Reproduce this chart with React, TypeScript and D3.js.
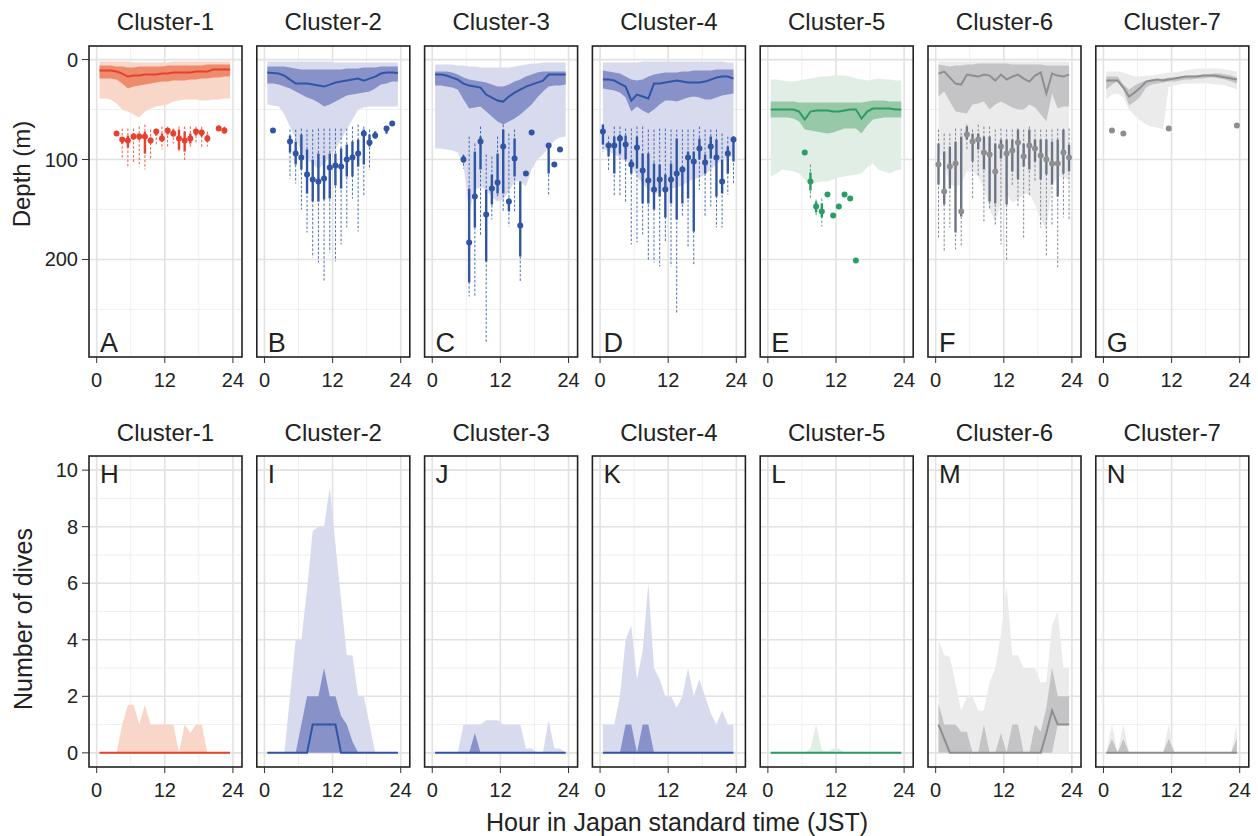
import React from "react";
import * as d3 from "d3";

// ---- data ----
const clusterNames = ["Cluster-1", "Cluster-2", "Cluster-3", "Cluster-4", "Cluster-5", "Cluster-6", "Cluster-7"];
const topLetters = ["A", "B", "C", "D", "E", "F", "G"];
const bottomLetters = ["H", "I", "J", "K", "L", "M", "N"];

const bandHour = [0.5, 1.5, 2.5, 3.5, 4.5, 5.5, 6.5, 7.5, 8.5, 9.5, 10.5, 11.5, 12.5, 13.5, 14.5, 15.5, 16.5, 17.5, 18.5, 19.5, 20.5, 21.5, 22.5, 23.5];

// depth bands (m), one row per cluster
const depthOuterTop = [
  [2, 2, 2, 2, 2, 2, 3, 3, 3, 3, 3, 3, 3, 2, 2, 2, 2, 2, 2, 2, 2, 2, 2, 2],
  [2, 2, 2, 2, 2, 2, 2, 2, 2, 2, 2, 2, 3, 3, 3, 3, 3, 3, 3, 3, 3, 3, 3, 3],
  [5, 5, 5, 5, 6, 6, 7, 7, 8, 8, 8, 8, 8, 8, 7, 6, 5, 4, 4, 3, 3, 3, 3, 3],
  [3, 3, 3, 3, 3, 3, 3, 2, 2, 2, 2, 2, 2, 2, 2, 2, 2, 2, 2, 2, 2, 2, 3, 3],
  [20, 20, 21, 22, 22, 21, 20, 19, 18, 17, 17, 16, 16, 16, 17, 19, 20, 21, 20, 19, 20, 20, 21, 21],
  [2, 2, 2, 2, 2, 2, 2, 2, 2, 2, 2, 2, 2, 2, 2, 2, 2, 2, 2, 2, 2, 2, 2, 2],
  [12, 12, 12, 13, 15, 17, 17, 16, 16, 15, 14, 13, 13, 12, 11, 10, 9, 9, 9, 9, 9, 10, 11, 12],
];
const depthInnerTop = [
  [6, 6, 6, 7, 7, 8, 8, 7, 7, 7, 7, 7, 6, 6, 6, 6, 6, 6, 6, 5, 5, 5, 5, 5],
  [7, 7, 7, 7, 8, 9, 10, 10, 10, 10, 10, 10, 10, 10, 9, 9, 9, 8, 8, 8, 7, 7, 7, 7],
  [12, 12, 12, 13, 15, 18, 20, 21, 22, 23, 25, 27, 27, 25, 22, 20, 17, 15, 13, 12, 12, 12, 12, 12],
  [11, 12, 13, 14, 17, 20, 21, 20, 17, 15, 14, 13, 13, 13, 12, 12, 11, 11, 11, 11, 10, 10, 10, 10],
  [42, 42, 42, 42, 42, 43, 43, 43, 43, 43, 43, 43, 43, 43, 43, 43, 43, 42, 41, 41, 41, 42, 42, 42],
  [5, 6, 7, 6, 6, 5, 5, 4, 4, 4, 4, 4, 4, 5, 5, 5, 5, 5, 5, 6, 6, 6, 6, 6],
  [17, 17, 17, 25, 30, 26, 23, 21, 20, 20, 19, 18, 18, 17, 17, 16, 16, 15, 15, 14, 14, 15, 16, 18],
];
const depthMedian = [
  [11, 11, 11, 12, 14, 17, 16, 16, 15, 15, 15, 14, 14, 13, 13, 13, 13, 12, 12, 12, 10, 10, 10, 10],
  [13, 13.5, 14, 16, 20, 24, 24, 24, 25, 26, 27, 25, 23, 22, 21, 20, 19, 21, 19, 17, 14, 13, 13, 13.5],
  [15, 15, 16, 18, 20, 24, 26, 27, 28, 35, 38, 41, 42, 37, 33, 30, 27, 25, 23, 21, 15, 15, 15, 15],
  [20, 20, 21, 24, 27, 41, 35, 37, 39, 24, 24, 23, 22, 21, 22, 23, 23, 23, 22, 20, 18, 17, 17, 19],
  [50, 50, 50, 50, 50, 52, 60, 52, 51, 51, 51, 52, 52, 51, 50, 50, 59, 52, 49, 49, 49, 49, 50, 50],
  [14, 12, 18, 24, 25, 15, 16, 17, 15, 16, 21, 15, 20, 17, 15, 19, 22, 16, 13, 34, 14, 16, 17, 15],
  [21, 21, 21, 28, 37, 33, 28, 22, 21, 20, 21, 20, 19, 18, 17, 17, 17, 16, 16, 16, 17, 18, 19, 20],
];
const depthInnerBottom = [
  [19, 19, 19, 20, 24, 29, 27, 26, 25, 24, 23, 22, 22, 21, 21, 21, 20, 20, 19, 19, 18, 18, 17, 17],
  [24, 24, 25, 27, 29, 32, 35, 38, 40, 43, 47, 45, 42, 39, 36, 35, 34, 33, 32, 29, 25, 24, 22, 22],
  [26, 26, 27, 28, 30, 40, 49, 48, 47, 52, 57, 62, 65, 62, 59, 55, 50, 45, 38, 32, 27, 26, 26, 25],
  [29, 30, 31, 33, 38, 52, 47, 51, 54, 50, 45, 41, 41, 42, 40, 38, 37, 38, 40, 40, 38, 36, 35, 34],
  [58, 58, 58, 58, 59, 62, 70, 71, 72, 73, 74, 73, 71, 69, 69, 69, 74, 66, 60, 59, 58, 58, 58, 58],
  [37, 32, 42, 52, 53, 54, 45, 44, 42, 50, 45, 42, 45, 48, 50, 50, 45, 48, 55, 62, 34, 49, 47, 47],
  [30, 25, 22, 30, 46, 42, 37, 28, 25, 24, 23, 22, 22, 21, 20, 20, 19, 19, 18, 18, 19, 20, 22, 24],
];
const depthOuterBottom = [
  [39, 39, 40, 44, 50, 52, 55, 58, 52, 49, 47, 46, 45, 42, 41, 40, 40, 40, 41, 41, 40, 40, 39, 39],
  [45, 46, 47, 55, 67, 80, 92, 100, 104, 110, 104, 97, 90, 80, 70, 60, 50, 48, 47, 47, 47, 47, 47, 47],
  [89, 89, 90, 91, 93, 105, 153, 130, 128, 130, 138, 142, 140, 132, 122, 122, 127, 110, 100, 95, 88, 81, 78, 77],
  [90, 92, 95, 98, 101, 105, 117, 124, 130, 135, 133, 131, 129, 128, 126, 122, 120, 118, 115, 110, 105, 100, 98, 97],
  [117, 114, 110, 111, 112, 114, 120, 124, 123, 122, 122, 120, 118, 117, 116, 115, 114, 108, 104, 110, 112, 114, 111, 110],
  [90, 105, 125, 127, 125, 112, 112, 117, 130, 150, 162, 143, 135, 143, 140, 135, 134, 145, 160, 170, 125, 117, 118, 120],
  [40, 35, 34, 38, 50, 56, 61, 65, 67, 68, 70, 27, 26, 25, 24, 24, 24, 24, 24, 25, 25, 26, 28, 30],
];

// deepest-dive points with inner (solid) and outer (dashed) ranges
const dotHour = [
  [3.5, 4.5, 5.5, 6.5, 7.5, 8.5, 9.5, 10.5, 11.5, 12.5, 13.5, 14.5, 15.5, 16.5, 17.5, 18.5, 19.5, 21.5, 22.5],
  [1.5, 4.5, 5.5, 6.5, 7.5, 8.5, 9.5, 10.5, 11.5, 12.5, 13.5, 14.5, 15.5, 16.5, 17.5, 18.5, 19.5, 21.5, 22.5],
  [5.5, 6.5, 7.5, 8.5, 9.5, 10.5, 11.5, 12.5, 13.5, 14.5, 15.5, 16.5, 17.5, 20.5, 21.5, 22.5],
  [0.5, 1.5, 2.5, 3.5, 4.5, 5.5, 6.5, 7.5, 8.5, 9.5, 10.5, 11.5, 12.5, 13.5, 14.5, 15.5, 16.5, 17.5, 18.5, 19.5, 20.5, 21.5, 22.5, 23.5],
  [6.5, 7.5, 8.5, 9.5, 10.5, 11.5, 12.5, 13.5, 14.5, 15.5],
  [0.5, 1.5, 2.5, 3.5, 4.5, 5.5, 6.5, 7.5, 8.5, 9.5, 10.5, 11.5, 12.5, 13.5, 14.5, 15.5, 16.5, 17.5, 18.5, 19.5, 20.5, 21.5, 22.5, 23.5],
  [1.5, 3.5, 11.5, 23.5],
];
const dotDepth = [
  [74, 80, 81, 77, 77, 77, 81, 72, 79, 71, 74, 79, 81, 79, 72, 73, 79, 69, 71],
  [71, 82, 94, 98, 115, 120, 122, 119, 108, 106, 107, 100, 98, 94, 74, 83, 76, 69, 64],
  [100, 183, 137, 82, 155, 129, 123, 87, 142, 99, 166, 114, 73, 86, 105, 90],
  [72, 86, 86, 79, 85, 105, 88, 111, 121, 130, 120, 130, 120, 114, 110, 98, 102, 89, 103, 87, 98, 122, 94, 80],
  [93, 122, 147, 152, 135, 156, 147, 135, 139, 201],
  [105, 132, 107, 104, 152, 75, 82, 80, 93, 95, 112, 87, 94, 91, 83, 97, 86, 89, 96, 100, 104, 104, 93, 98],
  [71, 74, 69, 66],
];
const dotQ1 = [
  [null, 78, 76, 74, 74, 72, 78, 70, 74, 69, 70, 70, 72, 74, 70, 70, 75, 66, 68],
  [null, 76, 82, 75, 90, 100, 94, 96, 94, 94, 89, 85, 82, 80, 70, 75, 72, 67, null],
  [96, 129, 92, 77, 130, 115, 94, 70, 139, 79, 122, null, null, 84, null, null],
  [65, 84, 77, 75, 76, 100, 77, 94, 94, 104, 105, 115, 104, 79, 107, 92, 92, 79, 95, 77, 80, 100, 87, 77],
  [null, 113, 142, 144, null, null, null, null, null, null],
  [84, 92, 87, 82, 77, 67, 74, 74, 77, 77, 84, 80, 80, 80, 70, 84, 70, 80, 80, 80, 82, 80, 70, 85],
  [null, null, null, null],
];
const dotQ3 = [
  [null, 84, 88, 80, 80, 94, 84, 76, 82, 75, 77, 90, 92, 84, 76, 77, 82, 71, 74],
  [null, 93, 105, 110, 134, 142, 142, 140, 139, 126, 129, 117, 117, 107, 105, 87, 79, 74, null],
  [103, 223, 168, 110, 202, 145, 134, 134, 152, 117, 197, null, null, 114, null, null],
  [85, 97, 114, 94, 100, 114, 109, 144, 144, 150, 137, 158, 144, 160, 144, 139, 172, 100, 114, 99, 137, 134, 114, 102],
  [null, 131, 153, 158, null, null, null, null, null, null],
  [125, 145, 129, 173, 157, 80, 102, 90, 110, 142, 144, 99, 145, 112, 120, 107, 110, 102, 120, 115, 125, 137, 114, 112],
  [null, null, null, null],
];
const dotLo = [
  [null, 69, 69, 69, 67, 65, 70, 69, 67, 67, 69, 67, 67, 67, 67, 67, 72, 66, 67],
  [null, 70, 70, 69, 70, 70, 69, 69, 69, 69, 69, 69, 67, 65, 67, 70, 72, 67, null],
  [95, 77, 84, 67, 95, 97, 77, 65, 74, 70, 122, null, null, 84, null, null],
  [65, 77, 67, 67, 69, 69, 67, 67, 70, 70, 69, 69, 70, 70, 70, 70, 70, 67, 70, 70, 70, 74, 77, 77],
  [null, 105, 140, 139, null, null, null, null, null, null],
  [70, 74, 74, 69, 69, 65, 70, 65, 67, 67, 70, 69, 70, 70, 69, 70, 67, 70, 70, 70, 70, 69, 69, 69],
  [null, null, null, null],
];
const dotHi = [
  [null, 100, 107, 104, 107, 110, 100, 85, 90, 87, 84, 92, 102, 89, 84, 89, 87, 71, 75],
  [null, 119, 124, 150, 173, 198, 203, 221, 193, 202, 185, 168, 139, 172, 137, 110, 79, 74, null],
  [109, 237, 238, 177, 283, 160, 139, 153, 167, 152, 222, null, null, 137, null, null],
  [92, 112, 137, 137, 144, 185, 183, 175, 202, 203, 207, 183, 207, 255, 157, 187, 205, 130, 158, 147, 168, 168, 135, 124],
  [null, 139, 157, 167, null, null, null, null, null, null],
  [178, 192, 168, 190, 187, 90, 139, 117, 163, 149, 165, 185, 202, 127, 147, 180, 137, 122, 168, 197, 167, 208, 158, 160],
  [null, null, null, null],
];

// number of dives per hour
const divesOuter = [
  [0, 0, 0, 0, 1, 1.7, 1.7, 1, 1.7, 1, 1, 1, 1, 1, 0, 1, 0.7, 1, 1, 0, 0, 0, 0, 0],
  [0, 0, 0, 0, 2, 4, 4, 5.8, 7.85, 8, 8, 9.4, 7.4, 5.4, 3.45, 3.45, 2, 2, 1, 0, 0, 0, 0, 0],
  [0, 0, 0, 0, 0, 1, 1, 1, 1, 1.15, 1.15, 1.15, 1, 1, 1, 1, 0.15, 0.15, 0, 0, 1.15, 0.15, 0.15, 0],
  [1, 1, 1, 2, 4, 4.5, 2.6, 3.6, 6, 3, 2.6, 2, 2, 1.6, 2, 3, 2, 2.6, 2, 1.4, 1, 1.5, 1, 1],
  [0, 0, 0, 0, 0, 0, 0, 0.15, 1, 0.1, 0.05, 0.15, 0.15, 0, 0, 0, 0, 0, 0, 0, 0, 0, 0, 0],
  [4, 3.45, 3.4, 2.45, 1.5, 2, 2, 1.5, 1.5, 2.5, 3, 4.2, 5.9, 3.45, 3.45, 3, 3, 3, 2.5, 2.5, 4.5, 5, 3, 3],
  [0, 1, 0, 1, 0, 0, 0, 0, 0, 0, 0, 1, 0, 0, 0, 0, 0, 0, 0, 0, 0, 0, 0, 1],
];
const divesInnerLow = [
  [0, 0, 0, 0, 0, 0, 0, 0, 0, 0, 0, 0, 0, 0, 0, 0, 0, 0, 0, 0, 0, 0, 0, 0],
  [0, 0, 0, 0, 0, 0, 0, 0, 0, 0, 0, 0, 0, 0, 0, 0, 0, 0, 0, 0, 0, 0, 0, 0],
  [0, 0, 0, 0, 0, 0, 0, 0, 0, 0, 0, 0, 0, 0, 0, 0, 0, 0, 0, 0, 0, 0, 0, 0],
  [0, 0, 0, 0, 0, 0, 0, 0, 0, 0, 0, 0, 0, 0, 0, 0, 0, 0, 0, 0, 0, 0, 0, 0],
  [0, 0, 0, 0, 0, 0, 0, 0, 0, 0, 0, 0, 0, 0, 0, 0, 0, 0, 0, 0, 0, 0, 0, 0],
  [0, 0, 0, 0, 0, 0, 0, 0, 0, 0, 0, 0, 0, 0, 0, 0, 0, 0, 0, 0, 0, 1, 1, 1],
  [0, 0, 0, 0, 0, 0, 0, 0, 0, 0, 0, 0, 0, 0, 0, 0, 0, 0, 0, 0, 0, 0, 0, 0],
];
const divesInner = [
  [0, 0, 0, 0, 0, 0, 0, 0, 0, 0, 0, 0, 0, 0, 0, 0, 0, 0, 0, 0, 0, 0, 0, 0],
  [0, 0, 0, 0, 0, 0, 1, 2, 2, 2, 3, 2, 2, 1.3, 1, 0.4, 0, 0, 0, 0, 0, 0, 0, 0],
  [0, 0, 0, 0, 0, 0, 0, 0.7, 0, 0, 0, 0, 0, 0, 0, 0, 0, 0, 0, 0, 0, 0, 0, 0],
  [0, 0, 0, 0, 1, 1, 0, 1, 1, 0, 0, 0, 0, 0, 0, 0, 0, 0, 0, 0, 0, 0, 0, 0],
  [0, 0, 0, 0, 0, 0, 0, 0, 0, 0, 0, 0, 0, 0, 0, 0, 0, 0, 0, 0, 0, 0, 0, 0],
  [1.75, 1, 1, 1, 0.75, 0.75, 0, 0, 1, 0, 0, 0.7, 0, 1, 1, 0, 0, 1, 0.75, 1.6, 3, 2, 2, 2],
  [0, 0.5, 0, 0.5, 0, 0, 0, 0, 0, 0, 0, 0.5, 0, 0, 0, 0, 0, 0, 0, 0, 0, 0, 0, 0.5],
];
const divesMedian = [
  [0, 0, 0, 0, 0, 0, 0, 0, 0, 0, 0, 0, 0, 0, 0, 0, 0, 0, 0, 0, 0, 0, 0, 0],
  [0, 0, 0, 0, 0, 0, 0, 0, 1, 1, 1, 1, 1, 0, 0, 0, 0, 0, 0, 0, 0, 0, 0, 0],
  [0, 0, 0, 0, 0, 0, 0, 0, 0, 0, 0, 0, 0, 0, 0, 0, 0, 0, 0, 0, 0, 0, 0, 0],
  [0, 0, 0, 0, 0, 0, 0, 0, 0, 0, 0, 0, 0, 0, 0, 0, 0, 0, 0, 0, 0, 0, 0, 0],
  [0, 0, 0, 0, 0, 0, 0, 0, 0, 0, 0, 0, 0, 0, 0, 0, 0, 0, 0, 0, 0, 0, 0, 0],
  [1, 0.5, 0, 0, 0, 0, 0, 0, 0, 0, 0, 0, 0, 0, 0, 0, 0, 0, 0, 0.7, 1.5, 1, 1, 1],
  [0, 0, 0, 0, 0, 0, 0, 0, 0, 0, 0, 0, 0, 0, 0, 0, 0, 0, 0, 0, 0, 0, 0, 0],
];

const xTicks = [0, 12, 24];
const depthTicks = [0, 100, 200];
const divesTicks = [0, 2, 4, 6, 8, 10];

// ---- styling ----
const lineColor = ["#e8402f", "#2f55a4", "#2f55a4", "#2f55a4", "#2a9d66", "#8e8e90", "#8e8e90"];
const innerColor = ["#ef8b6d", "#8892c9", "#8892c9", "#8892c9", "#97c9a8", "#c4c4c6", "#c4c4c6"];
const outerColor = ["#f8d6c8", "#d8dbee", "#d8dbee", "#d8dbee", "#e0eee5", "#ebebec", "#ebebec"];
const barColor = ["#e8402f", "#2f55a4", "#2f55a4", "#2f55a4", "#2a9d66", "#6c7586", "#8e8e90"];

const W = 1258, H = 836;
const PX = 89, STEP = 167.8, PW = 153, PH = 311;
const TOP_Y = 46, BOT_Y = 456;
const FONT = "'Liberation Sans', Arial, Helvetica, sans-serif";

const x = d3.scaleLinear().domain([-1.35, 25.6]).range([0, PW]);
const yDepth = d3.scaleLinear().domain([-13.6, 297.6]).range([0, PH]);
const yDives = d3.scaleLinear().domain([-0.5, 10.5]).range([PH, 0]);

function Grid({ yScale, major, minor }) {
  return (
    <g>
      {[6, 18].map(v => <line key={"vx" + v} x1={x(v)} x2={x(v)} y1={0} y2={PH} stroke="#ebebeb" strokeWidth={0.8} />)}
      {minor.map(v => <line key={"hy" + v} x1={0} x2={PW} y1={yScale(v)} y2={yScale(v)} stroke="#ebebeb" strokeWidth={0.8} />)}
      {xTicks.map(v => <line key={"Vx" + v} x1={x(v)} x2={x(v)} y1={0} y2={PH} stroke="#e2e2e2" strokeWidth={1.6} />)}
      {major.map(v => <line key={"Hy" + v} x1={0} x2={PW} y1={yScale(v)} y2={yScale(v)} stroke="#e2e2e2" strokeWidth={1.6} />)}
    </g>
  );
}

function XAxis() {
  return (
    <g transform={`translate(0,${PH})`}>
      {xTicks.map(v => (
        <g key={v} transform={`translate(${x(v)},0)`}>
          <line y1={0} y2={6} stroke="#333" strokeWidth={1} />
          <text y={30} textAnchor="middle" fontSize={20} fill="#222">{v}</text>
        </g>
      ))}
    </g>
  );
}

function DepthPanel({ c }) {
  const outer = d3.area<number>().x((_, i) => x(bandHour[i])).y0((_, i) => yDepth(depthOuterTop[c][i])).y1(d => yDepth(d));
  const inner = d3.area<number>().x((_, i) => x(bandHour[i])).y0((_, i) => yDepth(depthInnerTop[c][i])).y1(d => yDepth(d));
  const med = d3.line<number>().x((_, i) => x(bandHour[i])).y(d => yDepth(d));
  return (
    <g transform={`translate(${PX + c * STEP},${TOP_Y})`}>
      <rect width={PW} height={PH} fill="#fff" />
      <Grid yScale={yDepth} major={depthTicks} minor={[50, 150, 250]} />
      <path d={outer(depthOuterBottom[c]) || ""} fill={outerColor[c]} />
      <path d={inner(depthInnerBottom[c]) || ""} fill={innerColor[c]} />
      <path d={med(depthMedian[c]) || ""} fill="none" stroke={lineColor[c]} strokeWidth={2} />
      {dotHour[c].map((h, i) => {
        const lo = dotLo[c][i], hi = dotHi[c][i], q1 = dotQ1[c][i], q3 = dotQ3[c][i];
        return (
          <g key={i}>
            {lo != null && hi != null && (
              <line x1={x(h)} x2={x(h)} y1={yDepth(lo)} y2={yDepth(hi)} stroke={barColor[c]} strokeOpacity={0.85} strokeWidth={1} strokeDasharray="2.6,1.8" />
            )}
            {q1 != null && q3 != null && (
              <line x1={x(h)} x2={x(h)} y1={yDepth(q1)} y2={yDepth(q3)} stroke={barColor[c]} strokeWidth={2.4} />
            )}
            <circle cx={x(h)} cy={yDepth(dotDepth[c][i])} r={3} fill={c >= 5 ? "#8e8e90" : barColor[c]} />
          </g>
        );
      })}
      <rect width={PW} height={PH} fill="none" stroke="#222" strokeWidth={1.6} />
      <text x={11} y={PH - 5} fontSize={27} fill="#222">{topLetters[c]}</text>
      <XAxis />
      <text x={PW / 2} y={-16} textAnchor="middle" fontSize={24} fill="#222">{clusterNames[c]}</text>
      {c === 0 && (
        <g>
          {depthTicks.map(v => (
            <g key={v} transform={`translate(0,${yDepth(v)})`}>
              <line x1={-7} x2={0} stroke="#333" strokeWidth={1} />
              <text x={-11} dy="0.35em" textAnchor="end" fontSize={20} fill="#222">{v}</text>
            </g>
          ))}
        </g>
      )}
    </g>
  );
}

function DivesPanel({ c }) {
  const area = d3.area<number>().x((_, i) => x(bandHour[i])).y0(yDives(0)).y1(d => yDives(d));
  const innerArea = d3.area<number>().x((_, i) => x(bandHour[i])).y0((_, i) => yDives(divesInnerLow[c][i])).y1(d => yDives(d));
  const med = d3.line<number>().x((_, i) => x(bandHour[i])).y(d => yDives(d));
  return (
    <g transform={`translate(${PX + c * STEP},${BOT_Y})`}>
      <rect width={PW} height={PH} fill="#fff" />
      <Grid yScale={yDives} major={divesTicks} minor={[1, 3, 5, 7, 9]} />
      <path d={area(divesOuter[c]) || ""} fill={outerColor[c]} />
      <path d={innerArea(divesInner[c]) || ""} fill={innerColor[c]} />
      <path d={med(divesMedian[c]) || ""} fill="none" stroke={lineColor[c]} strokeWidth={2} />
      <rect width={PW} height={PH} fill="none" stroke="#222" strokeWidth={1.6} />
      <text x={11} y={27} fontSize={26} fill="#222">{bottomLetters[c]}</text>
      <XAxis />
      <text x={PW / 2} y={-15} textAnchor="middle" fontSize={24} fill="#222">{clusterNames[c]}</text>
      {c === 0 && (
        <g>
          {divesTicks.map(v => (
            <g key={v} transform={`translate(0,${yDives(v)})`}>
              <line x1={-7} x2={0} stroke="#333" strokeWidth={1} />
              <text x={-11} dy="0.35em" textAnchor="end" fontSize={20} fill="#222">{v}</text>
            </g>
          ))}
        </g>
      )}
    </g>
  );
}

export default function App() {
  return (
    <div style={{ position: "absolute", left: 0, top: 0 }}>
      <svg width={W} height={H} style={{ display: "block", fontFamily: FONT }}>
        <rect width={W} height={H} fill="#fff" />
        {clusterNames.map((_, c) => <DepthPanel key={"t" + c} c={c} />)}
        {clusterNames.map((_, c) => <DivesPanel key={"b" + c} c={c} />)}
        <text transform="translate(30,174) rotate(-90)" textAnchor="middle" fontSize={24} fill="#222">Depth (m)</text>
        <text transform="translate(32,619) rotate(-90)" textAnchor="middle" fontSize={25} fill="#222">Number of dives</text>
        <text x={677} y={831} textAnchor="middle" fontSize={25} fill="#222">Hour in Japan standard time (JST)</text>
      </svg>
    </div>
  );
}
